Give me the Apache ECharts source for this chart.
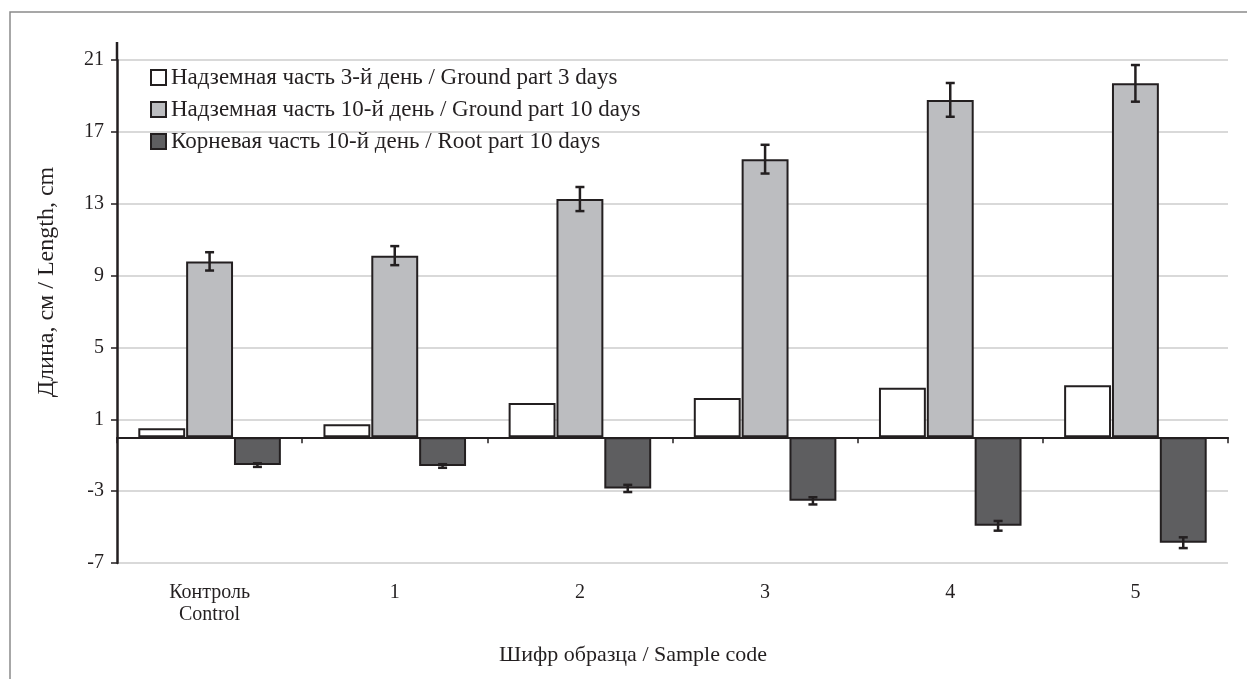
<!DOCTYPE html>
<html>
<head>
<meta charset="utf-8">
<script src="https://cdn.jsdelivr.net/npm/echarts@6/dist/echarts.min.js"></script>
<style>
html,body{margin:0;padding:0;background:#fff;}
#c{width:1247px;height:679px;}
</style>
</head>
<body>
<div id="c"></div>
<script>
const categories = ['Контроль\nControl', '1', '2', '3', '4', '5'];
const seriesNames = [
  'Надземная часть 3-й день / Ground part 3 days',
  'Надземная часть 10-й день / Ground part 10 days',
  'Корневая часть 10-й день / Root part 10 days'
];
const ground3 = [0.50, 0.72, 1.90, 2.18, 2.75, 2.90];
const ground10 = [9.79, 10.11, 13.26, 15.48, 18.78, 19.70];
const ground10Err = [0.51, 0.53, 0.67, 0.80, 0.94, 1.02];
const root10 = [-1.55, -1.60, -2.85, -3.54, -4.93, -5.87];
const root10Err = [0.10, 0.10, 0.20, 0.20, 0.27, 0.30];
const yMin = -7, yMax = 21, yInterval = 4;
const yAxisName = 'Длина, см / Length, cm';
const xAxisName = 'Шифр образца / Sample code';

const TXT = '#231f20';
const FONT = 'Liberation Serif';
const CAT_GAP = 0.23, BAR_GAP = 0.02;

function errRender(pos) {
  return function (params, api) {
    const idx = api.value(0), v = api.value(1), e = api.value(2);
    const band = api.size([1, 0])[0];
    const groupW = band * (1 - CAT_GAP);
    const bw = groupW / (3 + 2 * BAR_GAP);
    const total = 3 * bw + 2 * bw * BAR_GAP;
    const cx = api.coord([idx, v])[0] - total / 2 + bw / 2 + pos * bw * (1 + BAR_GAP);
    const yHi = api.coord([idx, v + e])[1];
    const yLo = api.coord([idx, v - e])[1];
    const cap = 4.5;
    const st = { stroke: TXT, lineWidth: 2.5 };
    return {
      type: 'group',
      children: [
        { type: 'line', shape: { x1: cx, y1: yHi, x2: cx, y2: yLo }, style: st },
        { type: 'line', shape: { x1: cx - cap, y1: yHi, x2: cx + cap, y2: yHi }, style: st },
        { type: 'line', shape: { x1: cx - cap, y1: yLo, x2: cx + cap, y2: yLo }, style: st }
      ]
    };
  };
}

const chart = echarts.init(document.getElementById('c'), null, { renderer: 'canvas' });
const barBorder = { borderColor: TXT, borderWidth: 2 };
chart.setOption({
  animation: false,
  backgroundColor: '#fff',
  textStyle: { fontFamily: FONT, color: TXT },
  grid: { left: 117, right: 19, top: 60, bottom: 116, containLabel: false },
  legend: {
    orient: 'vertical',
    left: 145,
    top: 61,
    itemWidth: 15,
    itemHeight: 15,
    itemGap: 9,
    icon: 'rect',
    textStyle: { fontFamily: FONT, fontSize: 23, color: TXT },
    data: seriesNames
  },
  xAxis: [
    {
      type: 'category',
      data: categories,
      position: 'bottom',
      axisLine: { show: false, onZero: false },
      axisTick: { show: false },
      axisLabel: { fontFamily: FONT, fontSize: 20, color: TXT, margin: 19, lineHeight: 22 },
      splitLine: { show: false }
    },
    {
      type: 'category',
      data: categories,
      position: 'bottom',
      axisLine: { show: true, onZero: true, lineStyle: { color: TXT, width: 2 } },
      axisTick: { show: true, length: 6, lineStyle: { color: TXT, width: 1.5 } },
      axisLabel: { show: false },
      splitLine: { show: false },
      z: 5
    }
  ],
  yAxis: {
    type: 'value',
    min: yMin,
    max: yMax,
    interval: yInterval,
    axisLine: { show: true, lineStyle: { color: TXT, width: 2.5 } },
    axisTick: { show: true, length: 6, lineStyle: { color: TXT, width: 1.5 } },
    axisLabel: { fontFamily: FONT, fontSize: 20, color: TXT, margin: 13 },
    splitLine: { show: true, lineStyle: { color: '#d9d9d9', width: 2 } }
  },
  series: [
    {
      name: seriesNames[0], type: 'bar', xAxisIndex: 0, data: ground3,
      barCategoryGap: (CAT_GAP * 100) + '%', barGap: (BAR_GAP * 100) + '%',
      itemStyle: Object.assign({ color: '#ffffff' }, barBorder)
    },
    {
      name: seriesNames[1], type: 'bar', xAxisIndex: 0, data: ground10,
      barCategoryGap: (CAT_GAP * 100) + '%', barGap: (BAR_GAP * 100) + '%',
      itemStyle: Object.assign({ color: '#bcbdc0' }, barBorder)
    },
    {
      name: seriesNames[2], type: 'bar', xAxisIndex: 0, data: root10,
      barCategoryGap: (CAT_GAP * 100) + '%', barGap: (BAR_GAP * 100) + '%',
      itemStyle: Object.assign({ color: '#5e5e60' }, barBorder)
    },
    {
      type: 'custom', xAxisIndex: 0, z: 10, silent: true,
      renderItem: errRender(1),
      encode: { x: 0, y: 1 },
      data: ground10.map((v, i) => [i, v, ground10Err[i]])
    },
    {
      type: 'custom', xAxisIndex: 0, z: 10, silent: true,
      renderItem: errRender(2),
      encode: { x: 0, y: 1 },
      data: root10.map((v, i) => [i, v, root10Err[i]])
    }
  ],
  graphic: [
    { type: 'rect', shape: { x: 10, y: 12, width: 1400, height: 800 },
      style: { fill: null, stroke: '#8a8a8a', lineWidth: 1.5 }, silent: true },
    { type: 'line', shape: { x1: 117, y1: 42, x2: 117, y2: 60 },
      style: { stroke: TXT, lineWidth: 2.5 }, silent: true },
    { type: 'text', x: 47, y: 282, rotation: Math.PI / 2,
      style: { text: yAxisName, fontFamily: FONT, fontSize: 24, fill: TXT, align: 'center', verticalAlign: 'middle' } },
    { type: 'text', x: 633, y: 655,
      style: { text: xAxisName, fontFamily: FONT, fontSize: 22, fill: TXT, align: 'center', verticalAlign: 'middle' } }
  ]
});
</script>
</body>
</html>
